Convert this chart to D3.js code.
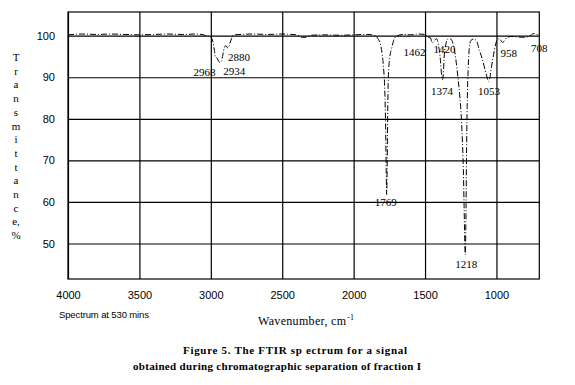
<!DOCTYPE html>
<html>
<head>
<meta charset="utf-8">
<script src="https://cdn.jsdelivr.net/npm/d3@7/dist/d3.min.js"></script>
<style>
  html, body { margin: 0; padding: 0; background: #fff; }
  svg { display: block; }
</style>
</head>
<body>
<svg id="chart" width="575" height="385"></svg>
<script>
// ---------- data ----------
const wavenumbers = [4000,3900,3800,3700,3600,3500,3400,3300,3200,3100,3050,3020,3000,2985,2975,2968,2955,2945,2934,2925,2915,2905,2895,2880,2870,2855,2840,2700,2600,2500,2400,2360,2340,2300,2200,2100,2000,1900,1850,1830,1815,1800,1790,1782,1776,1772,1769,1766,1762,1757,1748,1735,1720,1700,1650,1600,1550,1500,1480,1462,1450,1435,1420,1405,1392,1384,1378,1372,1365,1355,1340,1320,1300,1285,1270,1258,1248,1240,1232,1226,1220,1218,1214,1210,1205,1198,1190,1180,1160,1140,1120,1100,1085,1070,1058,1053,1045,1035,1020,1005,990,975,958,945,930,900,850,800,760,740,720,700];
const transmittance = [100.2,100.4,100.3,100.4,100.3,100.2,100.3,100.4,100.3,100.4,100.2,99.8,99.6,98.5,96.5,94.8,94.6,93.8,93.6,93.9,95.5,97.2,97.6,97.0,97.8,99.3,100.2,100.4,100.3,100.4,100.2,99.6,99.6,100.1,100.2,100.1,100.2,100.3,100.0,99.3,98.2,95.5,92,87,78,68,61.8,66,80,90,94.5,96.8,98.8,99.9,100.3,100.2,100.4,100.3,99.6,99.5,98.3,98.8,99.3,97.5,94,90.5,89.4,91,95.5,97.8,99.2,99.2,97.5,94.5,90,86,81.5,76,68,58,48,47.3,55,70,83,92,97,98.8,99.2,98.8,96.5,94.5,92.5,90.5,89.2,89.0,90,92.5,95.5,98,99.3,99.1,98.4,98.7,99.5,99.8,99.7,99.6,100.1,100.5,100.3,100.2];

const xTicks = [4000,3500,3000,2500,2000,1500,1000];
const yTicks = [50,60,70,80,90,100];
const peakLabels = ["2968","2934","2880","1769","1462","1420","1374","1218","1053","958","708"];

const yTitle = ["T","r","a","n","s","m","i","t","t","a","n","c","e,","%"];
const xTitle = "Wavenumber, cm";
const note = "Spectrum at 530 mins";
const caption1 = "Figure 5. The FTIR sp ectrum for a signal";
const caption2 = "obtained during chromatographic separation of fraction I";

// ---------- layout ----------
const L = 68, R = 539.3, T = 12, B = 279;
const svg = d3.select("#chart");

const x = d3.scaleLinear().domain([4000, 700]).range([L, R]);
const y = d3.scaleLinear().domain([41.46, 105.7]).range([B, T]);

// grid via axes
const gx = svg.append("g").attr("transform", `translate(0,${B})`)
  .call(d3.axisBottom(x).tickValues(xTicks).tickSize(-(B - T)).tickPadding(12).tickFormat(d3.format("d")));
gx.select(".domain").remove();
gx.selectAll("line").attr("stroke", "#000").attr("stroke-width", 1.2);
gx.selectAll("text").attr("font-family", "Liberation Sans, Arial, sans-serif")
  .attr("font-size", "11px").attr("fill", "#000");

const gy = svg.append("g").attr("transform", `translate(${L},0)`)
  .call(d3.axisLeft(y).tickValues(yTicks).tickSize(-(R - L)).tickPadding(13).tickFormat(d3.format("d")));
gy.select(".domain").remove();
gy.selectAll("line").attr("stroke", "#000").attr("stroke-width", 1.2);
gy.selectAll("text").attr("font-family", "Liberation Sans, Arial, sans-serif")
  .attr("font-size", "11px").attr("fill", "#000");

// frame
svg.append("rect").attr("x", L).attr("y", T).attr("width", R - L).attr("height", B - T)
  .attr("fill", "none").attr("stroke", "#000").attr("stroke-width", 1.2);

// spectrum
const pts = wavenumbers.map((w, i) => [w, transmittance[i]]);
const line = d3.line().x(d => x(d[0])).y(d => y(d[1])).curve(d3.curveMonotoneX);
svg.append("path").datum(pts).attr("d", line)
  .attr("fill", "none").attr("stroke", "#000").attr("stroke-width", 1)
  .attr("stroke-dasharray", "6,2,1,2");

// peak labels (layout offsets)
const labelLayout = {
  "2968": {dx: 0, y: 76, a: "end"},
  "2934": {dx: 3, y: 75, a: "start"},
  "2880": {dx: 0, y: 61, a: "start"},
  "1769": {dx: -1, y: 206, a: "middle"},
  "1462": {dx: -5, y: 56, a: "end"},
  "1420": {dx: -3, y: 53, a: "start"},
  "1374": {dx: -1, y: 95, a: "middle"},
  "1218": {dx: 1, y: 268, a: "middle"},
  "1053": {dx: 0, y: 95, a: "middle"},
  "958": {dx: -2, y: 57, a: "start"},
  "708": {dx: 1, y: 52, a: "middle"}
};
svg.append("g").selectAll("text").data(peakLabels).join("text")
  .attr("x", d => x(+d) + labelLayout[d].dx)
  .attr("y", d => labelLayout[d].y)
  .attr("text-anchor", d => labelLayout[d].a)
  .attr("font-family", "Liberation Serif, Times New Roman, serif")
  .attr("font-size", "11px").attr("fill", "#000")
  .text(d => d);

// y title (stacked letters)
const yt = svg.append("text").attr("font-family", "Liberation Serif, Times New Roman, serif")
  .attr("font-size", "11px").attr("fill", "#000").attr("text-anchor", "middle");
yt.selectAll("tspan").data(yTitle).join("tspan")
  .attr("x", 16).attr("y", (d, i) => 61 + i * 13.7).text(d => d);

// x title
const xt = svg.append("text").attr("x", 258).attr("y", 325)
  .attr("font-family", "Liberation Serif, Times New Roman, serif")
  .attr("font-size", "12px").attr("fill", "#000");
xt.append("tspan").text(xTitle).attr("textLength", 88);
xt.append("tspan").text("-1").attr("font-size", "8px").attr("dy", -5).attr("dx", 1);

// note
svg.append("text").attr("x", 59).attr("y", 318)
  .attr("font-family", "Liberation Sans, Arial, sans-serif")
  .attr("font-size", "9.5px").attr("fill", "#000").text(note)
  .attr("textLength", 90);

// caption
svg.append("text").attr("x", 183).attr("y", 354)
  .attr("font-family", "Liberation Serif, Times New Roman, serif").attr("font-weight", "bold")
  .attr("font-size", "11px").attr("fill", "#000").attr("textLength", 224).text(caption1);
svg.append("text").attr("x", 133).attr("y", 370)
  .attr("font-family", "Liberation Serif, Times New Roman, serif").attr("font-weight", "bold")
  .attr("font-size", "11px").attr("fill", "#000").attr("textLength", 288).text(caption2);
</script>
</body>
</html>
